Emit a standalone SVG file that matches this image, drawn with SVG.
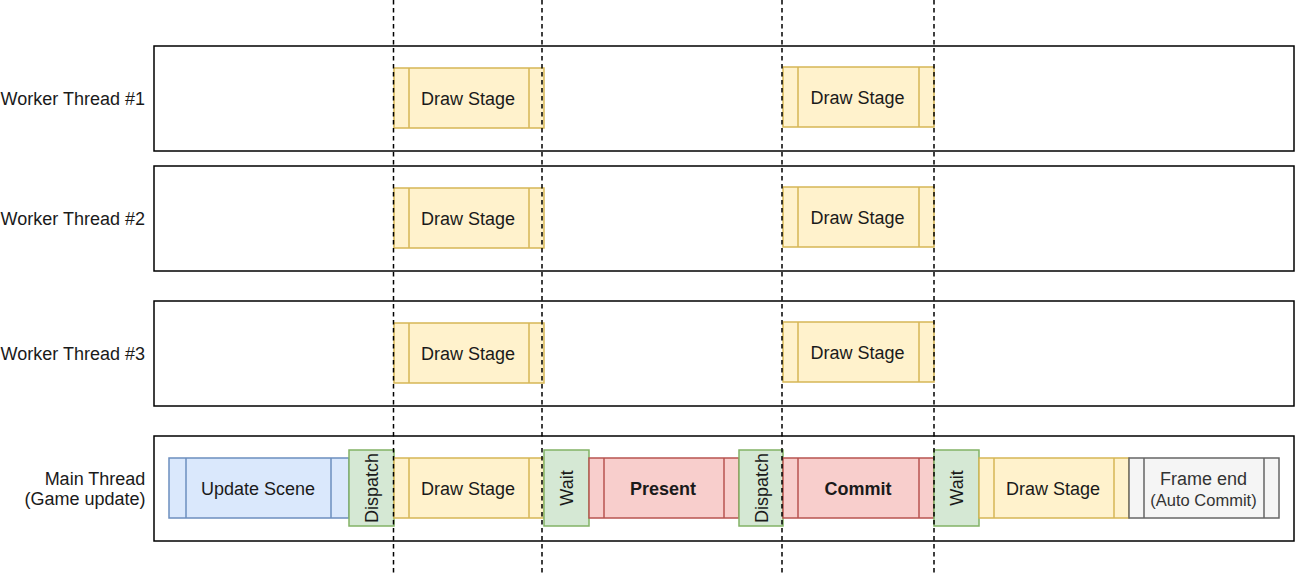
<svg xmlns="http://www.w3.org/2000/svg" width="1295" height="573" viewBox="0 0 1295 573">
<style>
text{font-family:"Liberation Sans",Arial,sans-serif;font-size:18px;fill:#1a1a1a}
.lane{fill:#fff;stroke:#000;stroke-width:1.5}
.y{fill:#fff2cc;stroke:#d6b656;stroke-width:1.5}
.b{fill:#dae8fc;stroke:#6c8ebf;stroke-width:1.5}
.g{fill:#d5e8d4;stroke:#82b366;stroke-width:1.5}
.r{fill:#f8cecc;stroke:#b85450;stroke-width:1.5}
.k{fill:#f5f5f5;stroke:#666;stroke-width:1.5}
.lbl{text-anchor:end}
.c{text-anchor:middle}
.dash{stroke:#000;stroke-width:1.5;stroke-dasharray:4.5 3.5;fill:none}
</style>
<g id="lane1"><rect class="lane" x="154" y="46" width="1140" height="105"/><text class="lbl" x="145" y="105">Worker Thread #1</text></g>
<g id="lane2"><rect class="lane" x="154" y="166" width="1140" height="105"/><text class="lbl" x="145" y="225">Worker Thread #2</text></g>
<g id="lane3"><rect class="lane" x="154" y="301" width="1140" height="105"/><text class="lbl" x="145" y="360">Worker Thread #3</text></g>
<g id="lane4"><rect class="lane" x="154" y="436" width="1140" height="105"/><text class="c" x="95" y="485">Main Thread</text><text class="c" x="85" y="505">(Game update)</text></g>

<g id="w1a"><rect class="y" x="394" y="68" width="150" height="60"/><path class="y" d="M409 68V128M529 68V128"/><text class="c" x="468" y="104.5">Draw Stage</text></g>
<g id="w1b"><rect class="y" x="783" y="67" width="151" height="60"/><path class="y" d="M798 67V127M919 67V127"/><text class="c" x="857.5" y="103.5">Draw Stage</text></g>
<g id="w2a"><rect class="y" x="394" y="188" width="150" height="60"/><path class="y" d="M409 188V248M529 188V248"/><text class="c" x="468" y="224.5">Draw Stage</text></g>
<g id="w2b"><rect class="y" x="783" y="187" width="151" height="60"/><path class="y" d="M798 187V247M919 187V247"/><text class="c" x="857.5" y="223.5">Draw Stage</text></g>
<g id="w3a"><rect class="y" x="394" y="323" width="150" height="60"/><path class="y" d="M409 323V383M529 323V383"/><text class="c" x="468" y="359.5">Draw Stage</text></g>
<g id="w3b"><rect class="y" x="783" y="322" width="151" height="60"/><path class="y" d="M798 322V382M919 322V382"/><text class="c" x="857.5" y="358.5">Draw Stage</text></g>

<g id="update"><rect class="b" x="169" y="458" width="180" height="60"/><path class="b" d="M186 458V518M331 458V518"/><text class="c" x="258" y="494.5">Update Scene</text></g>
<g id="dispatch1"><rect class="g" x="349" y="450" width="45" height="76"/><text class="c" transform="translate(377.5 488) rotate(-90)">Dispatch</text></g>
<g id="draw1"><rect class="y" x="394" y="458" width="150" height="60"/><path class="y" d="M409 458V518M529 458V518"/><text class="c" x="468" y="494.5">Draw Stage</text></g>
<g id="wait1"><rect class="g" x="544" y="450" width="45" height="76"/><text class="c" transform="translate(573 488) rotate(-90)">Wait</text></g>
<g id="present"><rect class="r" x="589" y="458" width="150" height="60"/><path class="r" d="M604 458V518M724 458V518"/><text class="c" x="663" y="494.5" font-weight="bold">Present</text></g>
<g id="dispatch2"><rect class="g" x="739" y="450" width="44" height="76"/><text class="c" transform="translate(767.5 488) rotate(-90)">Dispatch</text></g>
<g id="commit"><rect class="r" x="783" y="458" width="151" height="60"/><path class="r" d="M798 458V518M919 458V518"/><text class="c" x="858" y="494.5" font-weight="bold">Commit</text></g>
<g id="wait2"><rect class="g" x="934" y="450" width="45" height="76"/><text class="c" transform="translate(963 488) rotate(-90)">Wait</text></g>
<g id="draw2"><rect class="y" x="979" y="458" width="150" height="60"/><path class="y" d="M994 458V518M1114 458V518"/><text class="c" x="1053" y="494.5">Draw Stage</text></g>
<g id="frameend"><rect class="k" x="1129" y="458" width="150" height="60"/><path class="k" d="M1144 458V518M1264 458V518"/><text class="c" x="1203.5" y="485" style="fill:#333">Frame end</text><text class="c" x="1203.5" y="506" style="fill:#333;font-size:16.5px">(Auto Commit)</text></g>

<g id="connectors">
<path class="dash" d="M393.5 0V573"/>
<path class="dash" d="M542 0V573"/>
<path class="dash" d="M782 0V573"/>
<path class="dash" d="M934 0V573"/>
</g>
</svg>
